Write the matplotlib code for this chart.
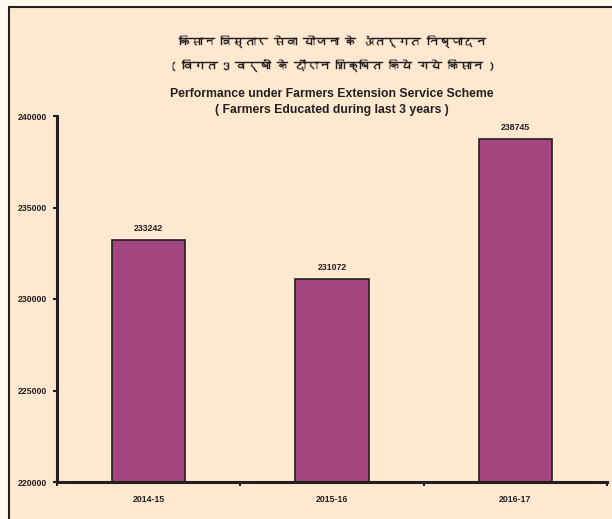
import matplotlib
matplotlib.use("Agg")
import matplotlib.pyplot as plt
import matplotlib.patheffects as pe
from matplotlib import font_manager
from matplotlib.ft2font import FT2Font
from matplotlib.patches import Rectangle

categories = ["2014-15", "2015-16", "2016-17"]
values = [233242, 231072, 238745]
yticks = [220000, 225000, 230000, 235000, 240000]
title_hi_1 = "किसान विस्तार सेवा योजना के अंतर्गत निष्पादन"
title_hi_2 = "( विगत 3 वर्षों के दौरान शिक्षित किये गये किसान )"
title_en_1 = "Performance under Farmers Extension Service Scheme"
title_en_2 = "( Farmers Educated during last 3 years )"

# find a font with Devanagari glyphs
deva_family = None
for fe in font_manager.fontManager.ttflist:
    try:
        f = FT2Font(fe.fname)
        cmap = f.get_charmap()
        if 0x0915 in cmap and 0x093F in cmap:
            deva_family = fe.name
            break
    except Exception:
        pass
hi_fam = [deva_family, "DejaVu Sans"] if deva_family else ["DejaVu Sans"]

sans = "Liberation Sans"
bg = "#FEE8CF"
outer = "#FFF8EF"
bar_c = "#A4467F"
dark = "#231F20"

fig = plt.figure(figsize=(6.12, 5.19), dpi=100, facecolor=outer)
fig.patches.append(Rectangle((9 / 612, -0.05), 1.1, 1 - 7 / 519 + 0.05,
                             transform=fig.transFigure, facecolor=bg,
                             edgecolor=dark, linewidth=1.5, zorder=-5))

ax = fig.add_axes([57 / 612, 1 - 482 / 519, 550 / 612, (482 - 116) / 519])
ax.set_zorder(2)
ax.patch.set_visible(False)

x = list(range(len(categories)))
ax.bar(x, values, width=0.4, color=bar_c, edgecolor=dark, linewidth=1.2, zorder=2)
for xi, v in zip(x, values):
    ax.annotate(str(v), (xi, v), xytext=(0, 5), textcoords="offset points",
                ha="center", va="bottom", fontsize=6.3, fontweight="bold",
                family=sans, color=dark)

ax.set_xlim(-0.5, len(categories) - 0.5)
ax.set_ylim(yticks[0], yticks[-1])
ax.set_yticks(yticks)
ax.set_yticklabels([str(t) for t in yticks], fontsize=6.3, fontweight="bold",
                   family=sans, color=dark)
ax.set_xticks(x)
ax.set_xticklabels(categories, fontsize=6.3, fontweight="bold", family=sans, color=dark)
ax.set_xticks([i - 0.5 for i in range(len(categories) + 1)], minor=True)
ax.tick_params(axis="x", which="major", length=0, pad=9)
ax.tick_params(axis="x", which="minor", length=3, width=1.5, color=dark, direction="out")
ax.tick_params(axis="y", length=3, width=1.5, color=dark, direction="out", pad=4)

for s in ["top", "right"]:
    ax.spines[s].set_visible(False)
for s in ["left", "bottom"]:
    ax.spines[s].set_linewidth(2.2)
    ax.spines[s].set_color(dark)

cx = 332 / 612
heavy = [pe.withStroke(linewidth=0.3, foreground=dark)]
fig.text(cx, 1 - 42 / 519, title_hi_1, ha="center", va="center", fontsize=8.5,
         fontweight="bold", family=hi_fam, color=dark, path_effects=heavy)
fig.text(cx, 1 - 66 / 519, title_hi_2, ha="center", va="center", fontsize=8.5,
         fontweight="bold", family=hi_fam, color=dark, path_effects=heavy)
fig.text(cx, 1 - 94 / 519, title_en_1, ha="center", va="center", fontsize=8.8,
         fontweight="bold", family=sans, color=dark)
fig.text(cx, 1 - 110 / 519, title_en_2, ha="center", va="center", fontsize=8.8,
         fontweight="bold", family=sans, color=dark)

fig.savefig("out.png", dpi=100, facecolor=outer)
